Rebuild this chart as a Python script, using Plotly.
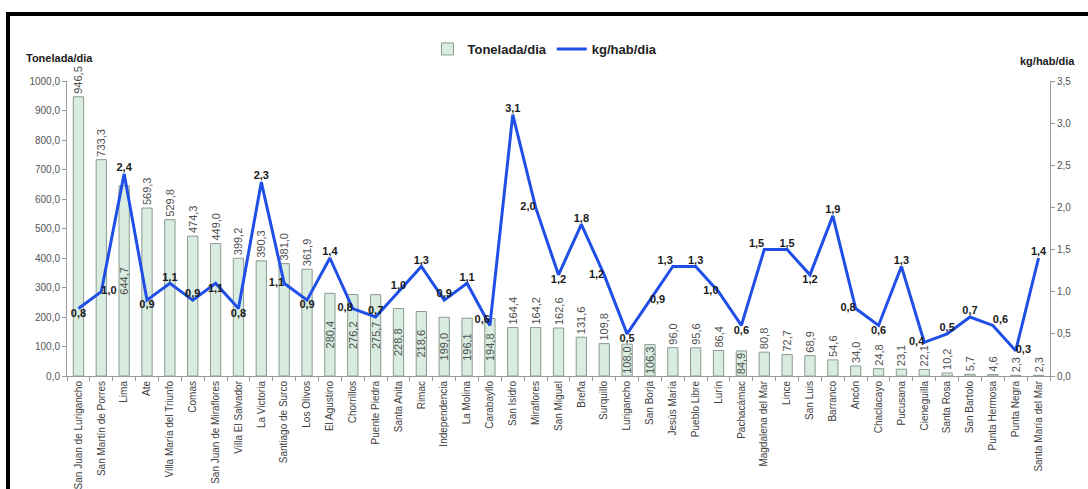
import plotly.graph_objects as go

# Residuos sólidos por distrito: toneladas por día y generación per cápita
distritos = [
    "San Juan de Lurigancho", "San Martín de Porres", "Lima", "Ate",
    "Villa María del Triunfo", "Comas", "San Juan de Miraflores",
    "Villa El Salvador", "La Victoria", "Santiago de Surco", "Los Olivos",
    "El Agustino", "Chorrillos", "Puente Piedra", "Santa Anita", "Rimac",
    "Independencia", "La Molina", "Carabayllo", "San Isidro", "Miraflores",
    "San Miguel", "Breña", "Surquillo", "Lurigancho", "San Borja",
    "Jesús María", "Pueblo Libre", "Lurín", "Pachacámac",
    "Magdalena del Mar", "Lince", "San Luis", "Barranco", "Ancón",
    "Chaclacayo", "Pucusana", "Cieneguilla", "Santa Rosa", "San Bartolo",
    "Punta Hermosa", "Punta Negra", "Santa María del Mar",
]
toneladas_dia = [
    946.5, 733.3, 644.7, 569.3, 529.8, 474.3, 449.0, 399.2, 390.3, 381.0,
    361.9, 280.4, 276.2, 275.7, 228.8, 218.6, 199.0, 196.1, 194.8, 164.4,
    164.2, 162.6, 131.6, 109.8, 108.0, 106.3, 96.0, 95.6, 86.4, 84.9,
    80.8, 72.7, 68.9, 54.6, 34.0, 24.8, 23.1, 22.1, 10.2, 5.7,
    4.6, 2.3, 2.3,
]
kg_hab_dia = [
    0.8, 1.0, 2.4, 0.9, 1.1, 0.9, 1.1, 0.8, 2.3, 1.1,
    0.9, 1.4, 0.8, 0.7, 1.0, 1.3, 0.9, 1.1, 0.6, 3.1,
    2.0, 1.2, 1.8, 1.2, 0.5, 0.9, 1.3, 1.3, 1.0, 0.6,
    1.5, 1.5, 1.2, 1.9, 0.8, 0.6, 1.3, 0.4, 0.5, 0.7,
    0.6, 0.3, 1.4,
]

# where each bar's value label sits
etiqueta_barra = ["outside"] * len(distritos)
for i in (2, 11, 12, 13, 14, 15, 16, 17, 18, 24, 25, 29):
    etiqueta_barra[i] = "inside"

# where each line value label sits
etiqueta_linea = [
    "bottom center", "middle right", "top center", "bottom center", "top center",
    "top center", "bottom center", "bottom center", "top center", "middle left",
    "bottom center", "top center", "middle left", "top center", "top center",
    "top center", "top center", "top center", "top left", "top center",
    "middle left", "bottom center", "top center", "middle left", "bottom center",
    "middle right", "top left", "top center", "middle left", "bottom center",
    "top left", "top center", "bottom center", "top center", "middle left",
    "bottom center", "top center", "middle left", "top center", "top center",
    "top right", "middle right", "top center",
]

NARROW = "Liberation Sans Narrow, Arial Narrow, Liberation Sans, Arial, sans-serif"
SANS = "Liberation Sans, Arial, sans-serif"
GRIS = "#9a9a9a"

W, H = 1088, 489
ML, MR, MT, MB = 67, 38, 81, 113
PW, PH = W - ML - MR, H - MT - MB


def px_x(x):
    return (x - ML) / PW


def px_y(y):
    return (H - MB - y) / PH


fig = go.Figure()

fig.add_trace(go.Bar(
    x=distritos, y=toneladas_dia, name="Tonelada/dia",
    marker=dict(color="#d8ece0", line=dict(color="#8c9a90", width=1)),
    text=toneladas_dia, texttemplate="%{y:.1f}", textposition=etiqueta_barra,
    textangle=-90, insidetextanchor="middle", constraintext="none",
    textfont=dict(family=NARROW, size=11, color="#505050"),
    cliponaxis=False,
))

fig.add_trace(go.Scatter(
    x=distritos, y=kg_hab_dia, name="kg/hab/dia", yaxis="y2",
    mode="lines+text", line=dict(color="#1f4fe6", width=3),
    texttemplate="<b>%{y:.1f}</b>", textposition=etiqueta_linea,
    textfont=dict(family=SANS, size=11, color="#1a1a1a"),
    cliponaxis=False,
))

eje = dict(showline=True, linecolor=GRIS, linewidth=1, ticks="outside",
           ticklen=4, tickcolor=GRIS, showgrid=False, zeroline=False,
           automargin=False)

fig.update_layout(
    width=W, height=H,
    margin=dict(l=ML, r=MR, t=MT, b=MB, pad=0),
    paper_bgcolor="white", plot_bgcolor="white",
    separators=",.",
    bargap=0.55,
    showlegend=True,
    legend=dict(orientation="h", x=px_x(545), y=px_y(49), xanchor="center",
                yanchor="middle", font=dict(family=SANS, size=13, color="#222222",
                                            weight="bold"),
                bgcolor="rgba(0,0,0,0)", itemwidth=30, traceorder="normal"),
    xaxis=dict(**eje, type="category", tickson="boundaries", tickangle=-90,
               range=[-0.5, len(distritos) - 0.5],
               tickfont=dict(family=NARROW, size=10, color="#404040")),
    yaxis=dict(**eje, range=[0, 1000], dtick=100, tickformat=".1f",
               tickfont=dict(family=SANS, size=10, color="#555555")),
    yaxis2=dict(**eje, overlaying="y", side="right", range=[0, 3.5], dtick=0.5,
                tickformat=".1f",
                tickfont=dict(family=SANS, size=10, color="#555555")),
    annotations=[
        dict(text="<b>Tonelada/dia</b>", xref="paper", yref="paper",
             x=px_x(24), y=px_y(58), xanchor="left", yanchor="middle",
             showarrow=False, font=dict(family=SANS, size=11, color="#1a1a1a")),
        dict(text="<b>kg/hab/dia</b>", xref="paper", yref="paper",
             x=px_x(1018), y=px_y(61), xanchor="left", yanchor="middle",
             showarrow=False, font=dict(family=SANS, size=11, color="#1a1a1a")),
    ],
    shapes=[
        # heavy frame along the top and left edges
        dict(type="line", xref="paper", yref="paper", x0=px_x(6), x1=px_x(W),
             y0=px_y(14), y1=px_y(14), line=dict(color="black", width=4)),
        dict(type="line", xref="paper", yref="paper", x0=px_x(8), x1=px_x(8),
             y0=px_y(12), y1=px_y(H), line=dict(color="black", width=4)),
    ],
)

fig.write_html("out.html")
